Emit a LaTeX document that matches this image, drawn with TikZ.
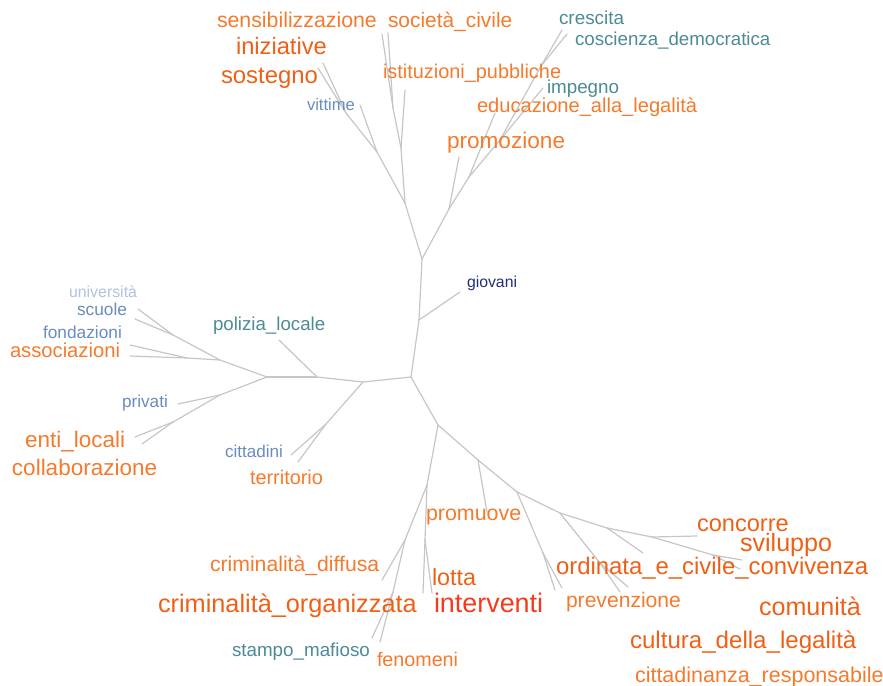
\documentclass[tikz,border=0pt]{standalone}
\usepackage{fontspec}
\setmainfont{Liberation Sans}
\usepackage{tikz}
\usetikzlibrary{positioning}

\definecolor{edgegray}{HTML}{C6C6C6}
\definecolor{orA}{HTML}{F47A2C}
\definecolor{orB}{HTML}{EE6016}
\definecolor{orC}{HTML}{F8381A}
\definecolor{tealw}{HTML}{4C8A95}
\definecolor{bluew}{HTML}{6A8CBE}
\definecolor{palew}{HTML}{AFC3DD}
\definecolor{navyw}{HTML}{1F2E78}

\begin{document}
\begin{tikzpicture}[x=1pt,y=-1pt,
  edge/.style={draw=edgegray,line width=1.2pt,line cap=round},
  word/.style 2 args={anchor=base west,inner sep=0pt,outer sep=0pt,text=#1,font=\fontsize{#2}{#2}\selectfont}]

  \useasboundingbox (0,0) rectangle (883,685);

  % Trunk and forks
  \coordinate (r)   at (411,377);
  \coordinate (tg)  at (419,320);
  \coordinate (tt)  at (422,259);
  \coordinate (tl)  at (405,203);
  \coordinate (tl1) at (377,152);
  \coordinate (tl2) at (346,113);
  \coordinate (tm)  at (401,148);
  \coordinate (tm1) at (393,108);
  \coordinate (tr)  at (449,209);
  \coordinate (tr1) at (469,177);
  \coordinate (tr2) at (500,140);
  \coordinate (tr3) at (541,66);
  \coordinate (l1)  at (363,382);
  \coordinate (lc)  at (326,424);
  \coordinate (l2)  at (317,377);
  \coordinate (l3)  at (267,377);
  \coordinate (lu)  at (220,360);
  \coordinate (lu1) at (173,335);
  \coordinate (lu2) at (187,358);
  \coordinate (ld)  at (220,395);
  \coordinate (ld1) at (173,422);
  \coordinate (b0)  at (438,425);
  \coordinate (b1)  at (427,485);
  \coordinate (b2)  at (405,540);
  \coordinate (b3)  at (393,592);
  \coordinate (b4)  at (425,540);
  \coordinate (c1)  at (478,460);
  \coordinate (c2)  at (517,492);
  \coordinate (c2a) at (543,553);
  \coordinate (c3)  at (560,513);
  \coordinate (c3a) at (600,563);
  \coordinate (c4)  at (607,528);
  \coordinate (c5)  at (652,537);
  \coordinate (c5a) at (713,555);

  % Leaf ends
  \coordinate (lgio) at (460,292);
  \coordinate (lvit) at (360,105);
  \coordinate (lini) at (323,63);
  \coordinate (lsos) at (318,68);
  \coordinate (list) at (405,90);
  \coordinate (lsen) at (382,34);
  \coordinate (lsoc) at (388,33);
  \coordinate (lpro) at (459,157);
  \coordinate (ledu) at (495,113);
  \coordinate (limp) at (543,88);
  \coordinate (lcre) at (562,30);
  \coordinate (lcos) at (567,34);
  \coordinate (lcit) at (291,455);
  \coordinate (lter) at (298,462);
  \coordinate (lpol) at (279,340);
  \coordinate (luni) at (138,309);
  \coordinate (lscu) at (135,319);
  \coordinate (lfon) at (130,345);
  \coordinate (lass) at (130,356);
  \coordinate (lpri) at (178,404);
  \coordinate (lent) at (135,437);
  \coordinate (lcol) at (142,444);
  \coordinate (ldif) at (382,580);
  \coordinate (lsta) at (372,638);
  \coordinate (lfen) at (380,642);
  \coordinate (llot) at (423,593);
  \coordinate (lint) at (432,593);
  \coordinate (lpmv) at (487,512);
  \coordinate (lpv1) at (555,590);
  \coordinate (lpv2) at (562,588);
  \coordinate (lor1) at (620,592);
  \coordinate (lor2) at (628,587);
  \coordinate (lord) at (643,553);
  \coordinate (lcon) at (697,536);
  \coordinate (lsvi) at (742,560);
  \coordinate (lcvz) at (740,569);

  % Branches
  \foreach \a/\b in {r/tg,tg/tt,tg/lgio,
      tt/tl,tl/tl1,tl1/lvit,tl1/tl2,tl2/lini,tl2/lsos,
      tl/tm,tm/list,tm/tm1,tm1/lsen,tm1/lsoc,
      tt/tr,tr/lpro,tr/tr1,tr1/ledu,tr1/tr2,tr2/limp,tr2/tr3,tr3/lcre,tr3/lcos,
      r/l1,l1/lc,lc/lcit,lc/lter,l1/l2,l2/lpol,l2/l3,
      l3/lu,lu/lu1,lu1/luni,lu1/lscu,lu/lu2,lu2/lfon,lu2/lass,
      l3/ld,ld/lpri,ld/ld1,ld1/lent,ld1/lcol,
      r/b0,b0/b1,b1/b2,b2/ldif,b2/b3,b3/lsta,b3/lfen,b1/b4,b4/llot,b4/lint,
      b0/c1,c1/lpmv,c1/c2,c2/c2a,c2a/lpv1,c2a/lpv2,
      c2/c3,c3/c3a,c3a/lor1,c3a/lor2,c3/c4,c4/lord,c4/c5,c5/lcon,c5/c5a,c5a/lsvi,c5a/lcvz}
    \draw[edge] (\a) -- (\b);

  % Words
  \node[word={orA}{21.3}] (sensib)  at (217,28)  {sensibilizzazione};
  \node[word={orA}{20.9}] (societa) at (388,28)  {società\_civile};
  \node[word={orB}{23.7}] (inizia)  at (236,55)  {iniziative};
  \node[word={orB}{23.9}] (sosteg)  at (221,83)  {sostegno};
  \node[word={bluew}{16.6}] (vittim) at (307,110) {vittime};
  \node[word={orA}{19.9}] (istitu)  at (383,78)  {istituzioni\_pubbliche};
  \node[word={tealw}{18.9}] (cresci) at (559,25)  {crescita};
  \node[word={tealw}{18.7}] (coscie) at (575,46)  {coscienza\_democratica};
  \node[word={tealw}{18.8}] (impegn) at (547,93)  {impegno};
  \node[word={orA}{20.1}] (educaz)  at (477,112) {educazione\_alla\_legalità};
  \node[word={orA}{22.6}] (promoz)  at (447,148) {promozione};
  \node[word={navyw}{15.8}] (giovan) at (467,287) {giovani};
  \node[word={palew}{15.9}] (univer) at (69,297)  {università};
  \node[word={bluew}{17.3}] (scuole) at (77,315)  {scuole};
  \node[word={bluew}{17.3}] (fondaz) at (43,338)  {fondazioni};
  \node[word={orA}{20.2}] (associ)  at (10,357)  {associazioni};
  \node[word={tealw}{18.7}] (polizi) at (213,330) {polizia\_locale};
  \node[word={bluew}{17.2}] (privat) at (122,407) {privati};
  \node[word={orA}{22.5}] (entilo)  at (25,447)  {enti\_locali};
  \node[word={orA}{22.5}] (collab)  at (12,475)  {collaborazione};
  \node[word={bluew}{17.1}] (cittad) at (225,457) {cittadini};
  \node[word={orA}{19.9}] (territ)  at (250,484) {territorio};
  \node[word={orA}{21.4}] (promuo)  at (426,520) {promuove};
  \node[word={orA}{21.2}] (crimdi)  at (210,571) {criminalità\_diffusa};
  \node[word={orB}{25.3}] (crimor)  at (158,612) {criminalità\_organizzata};
  \node[word={orB}{23.3}] (lotta)   at (432,585) {lotta};
  \node[word={orC}{26.9}] (interv)  at (434,612) {interventi};
  \node[word={tealw}{18.8}] (stampo) at (232,656) {stampo\_mafioso};
  \node[word={orA}{19.7}] (fenome)  at (377,666) {fenomeni};
  \node[word={orA}{21.1}] (preven)  at (566,607) {prevenzione};
  \node[word={orB}{23.9}] (ordina)  at (556,574) {ordinata\_e\_civile\_convivenza};
  \node[word={orB}{23.6}] (concor)  at (697,531) {concorre};
  \node[word={orB}{25.1}] (svilup)  at (740,551) {sviluppo};
  \node[word={orB}{25.1}] (comuni)  at (759,615) {comunità};
  \node[word={orB}{24.1}] (cultur)  at (630,648) {cultura\_della\_legalità};
  \node[word={orA}{21.5}] (cittre)  at (635,682) {cittadinanza\_responsabile};
\end{tikzpicture}
\end{document}
